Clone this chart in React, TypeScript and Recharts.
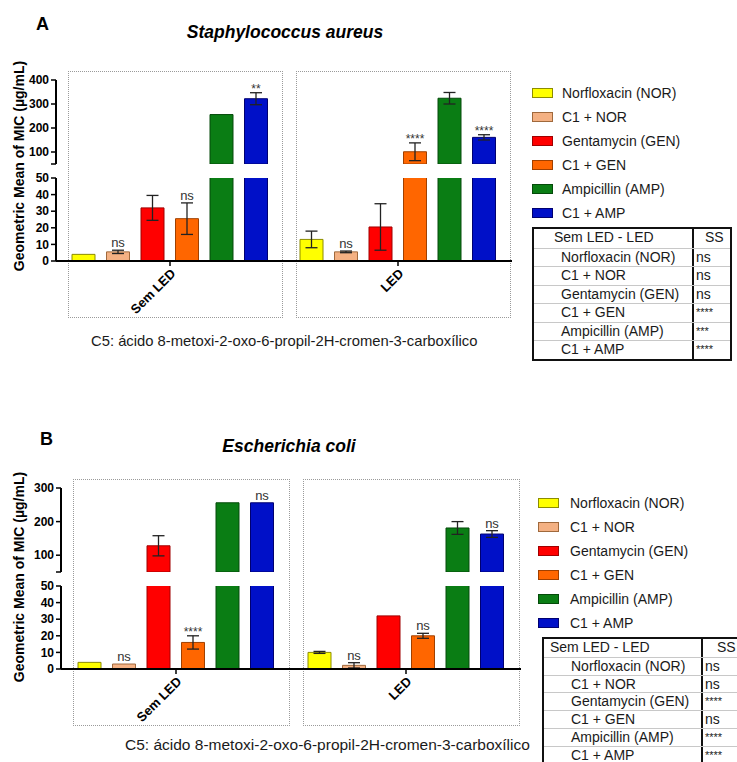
import React from 'react';
import { BarChart, Bar, XAxis, YAxis, ErrorBar, LabelList } from 'recharts';

const FONT = '"Liberation Sans", Arial, Helvetica, sans-serif';

// ---- shared categories / series ----
const groups = ['Sem LED', 'LED'];
const seriesNames = ['Norfloxacin (NOR)', 'C1 + NOR', 'Gentamycin (GEN)', 'C1 + GEN', 'Ampicillin (AMP)', 'C1 + AMP'];
const seriesColors = ['#FFFF00', '#F4B183', '#FF0000', '#FF6600', '#0A7D14', '#0010C8'];
const seriesStrokes = ['#8C8C00', '#A0693C', '#A00000', '#A04000', '#044A0A', '#000070'];
const tableHeader = ['Sem LED - LED', 'SS'];

// ---- Panel A: Staphylococcus aureus ----
const saSemLed = [4, 5.5, 32, 25.5, 256, 322];
const saSemLedErr = [0, 1, 7.5, 9.5, 0, 25];
const saSemLedSig = ['', 'ns', '', 'ns', '', '**'];
const saLed = [13, 5.5, 20.5, 101, 324, 161];
const saLedErr = [5, 0.5, 14, 37, 24, 11];
const saLedSig = ['', 'ns', '', '****', '', '****'];
const saTableSig = ['ns', 'ns', 'ns', '****', '***', '****'];
const saUpperTicks = [50, 100, 200, 300, 400];
const saLowerTicks = [0, 10, 20, 30, 40, 50];

// ---- Panel B: Escherichia coli ----
const ecSemLed = [4, 3, 128, 16, 256, 256];
const ecSemLedErr = [0, 0, 30, 4, 0, 0];
const ecSemLedSig = ['', 'ns', '', '****', '', 'ns'];
const ecLed = [10, 2.2, 32, 20, 181, 163];
const ecLedErr = [0.6, 1.6, 0, 1.5, 19, 10];
const ecLedSig = ['', 'ns', '', 'ns', '', 'ns'];
const ecTableSig = ['ns', 'ns', '****', 'ns', '****', '****'];
const ecUpperTicks = [50, 100, 200, 300];
const ecLowerTicks = [0, 10, 20, 30, 40, 50];

const caption = 'C5: ácido 8-metoxi-2-oxo-6-propil-2H-cromen-3-carboxílico';

type Seg = { min: number; max: number; ticks: number[]; plotTop: number; plotBottom: number };

function buildRows(values: number[][], errs: number[][], sigs: string[][], seg: Seg, isLower: boolean) {
  return groups.map((g, gi) => {
    const row: any = { group: g };
    seriesNames.forEach((_, si) => {
      const v = values[gi][si];
      const inSeg = isLower ? v <= seg.max : v > seg.min;
      // upper segment only shows bars reaching past the axis break
      row['v' + si] = isLower || inSeg ? v : null;
      row['e' + si] = inSeg && errs[gi][si] > 0 ? errs[gi][si] : null;
      row['s' + si] = inSeg ? sigs[gi][si] : '';
    });
    return row;
  });
}

const XTick = (props: any) => {
  const { x, y, payload } = props;
  return (
    <g transform={`translate(${x},${y})`}>
      <text x={0} y={0} dy={9} textAnchor="end" transform="rotate(-45)" fontSize={13} fontWeight="bold" fill="#000" fontFamily={FONT}>
        {payload.value}
      </text>
    </g>
  );
};

function SegmentChart(p: {
  plotLeft: number; plotRight: number; seg: Seg; isLower: boolean;
  values: number[][]; errs: number[][]; sigs: string[][];
}) {
  const { plotLeft, plotRight, seg, isLower } = p;
  const rows = buildRows(p.values, p.errs, p.sigs, seg, isLower);
  const mTop = 10;
  const xAxisH = isLower ? 64 : 0;
  const mBottom = isLower ? 0 : 6;
  const plotH = seg.plotBottom - seg.plotTop;
  const height = mTop + plotH + xAxisH + mBottom;
  const width = plotRight + 10;
  const ppu = plotH / (seg.max - seg.min);
  const mid = (plotLeft + plotRight) / 2;

  const sigContent = (si: number) => (props: any) => {
    const vb = props.viewBox || {};
    const x = vb.x ?? props.x;
    const y = vb.y ?? props.y;
    const w = vb.width ?? props.width;
    if (x == null || y == null) return null;
    // which category this bar belongs to, from its position on the band scale
    const idx = x > mid ? 1 : 0;
    const row = rows[idx];
    if (!row) return null;
    const sig = row['s' + si];
    if (!sig) return null;
    const err = row['e' + si] || 0;
    const errTop = y - err * ppu;
    const star = sig.indexOf('*') >= 0;
    return (
      <text x={x + w / 2} y={star ? errTop : errTop - 3} textAnchor="middle" fontSize={star ? 12 : 13}
        fill="#333" fontFamily={FONT}>
        {sig}
      </text>
    );
  };

  return (
    <div style={{ position: 'absolute', left: 0, top: seg.plotTop - mTop }}>
      <BarChart width={width} height={height} data={rows} barGap={11.5} barSize={23}
        margin={{ top: mTop, right: 10, bottom: mBottom, left: 0 }}>
        {isLower ? (
          <XAxis dataKey="group" height={xAxisH} interval={0} tick={<XTick />} tickSize={5}
            axisLine={{ stroke: '#000', strokeWidth: 2 }} tickLine={{ stroke: '#000', strokeWidth: 1.5 }} />
        ) : (
          <XAxis dataKey="group" hide />
        )}
        <YAxis type="number" domain={[seg.min, seg.max]} ticks={seg.ticks} allowDataOverflow interval={0}
          width={plotLeft} tickSize={5}
          tickFormatter={(v: number) => (!isLower && v === seg.min ? '' : String(v))}
          tick={{ fill: '#000', fontSize: 12, fontWeight: 'bold', fontFamily: FONT }}
          axisLine={{ stroke: '#000', strokeWidth: 2 }} tickLine={{ stroke: '#000', strokeWidth: 1.5 }} />
        {seriesNames.map((n, si) => (
          <Bar key={n} dataKey={'v' + si} name={n} fill={seriesColors[si]} stroke={seriesStrokes[si]} strokeWidth={1}
            isAnimationActive={false}>
            <ErrorBar dataKey={'e' + si} width={6} stroke="#222" strokeWidth={1.3} direction="y" />
            <LabelList dataKey={'v' + si} content={sigContent(si)} />
          </Bar>
        ))}
      </BarChart>
    </div>
  );
}

function Legend(p: { left: number; firstCenter: number; step: number; textLeft: number }) {
  return (
    <>
      {seriesNames.map((n, i) => (
        <div key={n} style={{ position: 'absolute', left: p.left, top: p.firstCenter + i * p.step - 10, height: 20, display: 'flex', alignItems: 'center' }}>
          <div style={{ width: 19, height: 8, background: seriesColors[i], border: `1px solid ${seriesStrokes[i]}` }} />
          <div style={{ position: 'absolute', left: p.textLeft - p.left, whiteSpace: 'nowrap', fontSize: 14, color: '#1a1a1a', fontFamily: FONT }}>{n}</div>
        </div>
      ))}
    </>
  );
}

function SigTable(p: { left: number; top: number; width: number; col1: number; rowH: number; headerIndent: number; rowIndent: number; ssIndent: number; sigs: string[] }) {
  const rows = [{ a: tableHeader[0], b: tableHeader[1], header: true }, ...seriesNames.map((n, i) => ({ a: n, b: p.sigs[i], header: false }))];
  return (
    <div style={{ position: 'absolute', left: p.left, top: p.top, width: p.width, border: '2px solid #111', boxSizing: 'border-box', background: '#fff', fontFamily: FONT, fontSize: 14, color: '#1a1a1a' }}>
      {rows.map((r, i) => (
        <div key={i} style={{ height: p.rowH, display: 'flex', boxSizing: 'border-box', borderTop: i === 0 ? 'none' : '1px solid #c8c8c8' }}>
          <div style={{ width: p.col1 - 2, boxSizing: 'border-box', paddingLeft: r.header ? p.headerIndent : p.rowIndent, lineHeight: `${p.rowH - 1}px`, whiteSpace: 'nowrap', borderRight: '2px solid #111' }}>{r.a}</div>
          <div style={{ paddingLeft: r.header ? p.ssIndent : 2, lineHeight: `${p.rowH - 1}px`, whiteSpace: 'nowrap', fontSize: r.b.indexOf('*') >= 0 ? 11 : 14 }}>{r.b}</div>
        </div>
      ))}
    </div>
  );
}

function GroupBoxes(p: { plotLeft: number; plotRight: number; top: number; bottom: number }) {
  const band = (p.plotRight - p.plotLeft) / groups.length;
  return (
    <>
      {groups.map((g, i) => (
        <div key={g} style={{ position: 'absolute', left: p.plotLeft + i * band + 11.5, top: p.top, width: band - 13, height: p.bottom - p.top, border: '1px dotted #9a9a9a', boxSizing: 'border-box' }} />
      ))}
    </>
  );
}

export default function App() {
  const A = { plotLeft: 56, plotRight: 512 };
  const B = { plotLeft: 61, plotRight: 521 };
  const aUpper: Seg = { min: 50, max: 400, ticks: saUpperTicks, plotTop: 80, plotBottom: 164 };
  const aLower: Seg = { min: 0, max: 50, ticks: saLowerTicks, plotTop: 178, plotBottom: 261 };
  const bUpper: Seg = { min: 50, max: 300, ticks: ecUpperTicks, plotTop: 488, plotBottom: 572 };
  const bLower: Seg = { min: 0, max: 50, ticks: ecLowerTicks, plotTop: 586, plotBottom: 669 };
  const aVals = [saSemLed, saLed], aErrs = [saSemLedErr, saLedErr], aSigs = [saSemLedSig, saLedSig];
  const bVals = [ecSemLed, ecLed], bErrs = [ecSemLedErr, ecLedErr], bSigs = [ecSemLedSig, ecLedSig];

  return (
    <div style={{ position: 'absolute', left: 0, top: 0, width: 737, height: 762, overflow: 'hidden', background: '#fff', fontFamily: FONT }}>
      <GroupBoxes {...A} top={71} bottom={318} />
      <GroupBoxes {...B} top={479} bottom={726} />
      <svg width={737} height={762} style={{ position: 'absolute', left: 0, top: 0 }}>
        <text x={36} y={30} fontSize={18} fontWeight="bold" fill="#000" fontFamily={FONT}>A</text>
        <text x={285} y={38} textAnchor="middle" fontSize={17.5} fontWeight="bold" fontStyle="italic" fill="#000" fontFamily={FONT}>Staphylococcus aureus</text>
        <text x={19} y={166} transform="rotate(-90, 19, 166)" textAnchor="middle" dominantBaseline="central" fontSize={14} fontWeight="bold" fill="#000" fontFamily={FONT}>Geometric Mean of MIC (µg/mL)</text>
        <text x={91} y={346} fontSize={14.8} fill="#1a1a1a" fontFamily={FONT}>{caption}</text>

        <text x={40} y={445} fontSize={18} fontWeight="bold" fill="#000" fontFamily={FONT}>B</text>
        <text x={289} y={452} textAnchor="middle" fontSize={17.5} fontWeight="bold" fontStyle="italic" fill="#000" fontFamily={FONT}>Escherichia coli</text>
        <text x={19} y={577} transform="rotate(-90, 19, 577)" textAnchor="middle" dominantBaseline="central" fontSize={14} fontWeight="bold" fill="#000" fontFamily={FONT}>Geometric Mean of MIC (µg/mL)</text>
        <text x={125} y={750} fontSize={15.5} fill="#1a1a1a" fontFamily={FONT}>{caption}</text>
      </svg>

      <SegmentChart {...A} seg={aUpper} isLower={false} values={aVals} errs={aErrs} sigs={aSigs} />
      <SegmentChart {...A} seg={aLower} isLower={true} values={aVals} errs={aErrs} sigs={aSigs} />
      <SegmentChart {...B} seg={bUpper} isLower={false} values={bVals} errs={bErrs} sigs={bSigs} />
      <SegmentChart {...B} seg={bLower} isLower={true} values={bVals} errs={bErrs} sigs={bSigs} />

      <Legend left={532} firstCenter={92.7} step={24.1} textLeft={562} />
      <SigTable left={532} top={227} width={200} col1={162} rowH={18.57} headerIndent={20} rowIndent={27} ssIndent={11} sigs={saTableSig} />
      <Legend left={538} firstCenter={502.7} step={24} textLeft={570} />
      <SigTable left={542} top={637} width={210} col1={161} rowH={17.8} headerIndent={6} rowIndent={27} ssIndent={14} sigs={ecTableSig} />
    </div>
  );
}
